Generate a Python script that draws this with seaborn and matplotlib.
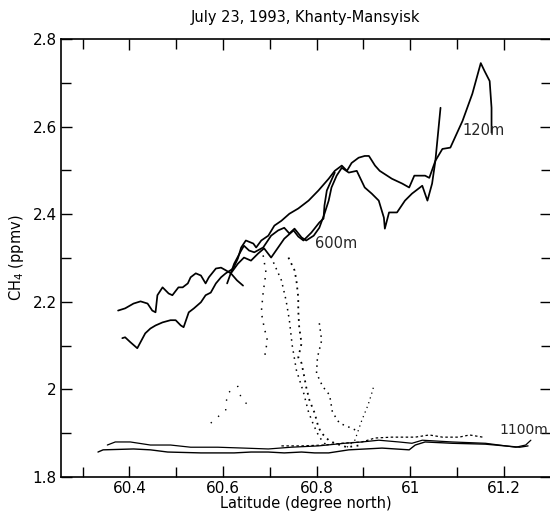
import numpy as np
import pandas as pd
import matplotlib
matplotlib.use("Agg")
import matplotlib.pyplot as plt
from matplotlib.ticker import MultipleLocator, FuncFormatter
import seaborn as sns

# ---------------- data ----------------
# 120 m flight legs
lat_120a = [60.376, 60.391, 60.409, 60.424, 60.439, 60.449, 60.456, 60.460, 60.471, 60.484,
            60.492, 60.505, 60.514, 60.525, 60.531, 60.542, 60.553, 60.563, 60.570, 60.585,
            60.596, 60.606, 60.617, 60.632, 60.645, 60.660, 60.675, 60.688, 60.703, 60.718,
            60.731, 60.751, 60.761, 60.772, 60.789, 60.806, 60.815, 60.817, 60.822, 60.839]
ch4_120a = [2.180, 2.185, 2.196, 2.201, 2.196, 2.180, 2.176, 2.215, 2.233, 2.219,
            2.215, 2.233, 2.233, 2.242, 2.256, 2.265, 2.260, 2.242, 2.256, 2.276,
            2.278, 2.272, 2.265, 2.287, 2.301, 2.294, 2.310, 2.322, 2.301, 2.324,
            2.344, 2.363, 2.349, 2.340, 2.358, 2.381, 2.390, 2.420, 2.454, 2.495]
lat_120d = [60.617, 60.630, 60.643]
ch4_120d = [2.265, 2.249, 2.237]
lat_120b = [60.385, 60.391, 60.402, 60.417, 60.424, 60.434, 60.445, 60.456, 60.471, 60.488,
            60.499, 60.510, 60.516, 60.527, 60.538, 60.553, 60.563, 60.574, 60.585, 60.596,
            60.606, 60.622, 60.632, 60.639, 60.649, 60.665, 60.671, 60.682, 60.697, 60.710,
            60.725, 60.742, 60.761, 60.783, 60.804, 60.826, 60.839, 60.854, 60.865, 60.875,
            60.890, 60.903, 60.912, 60.925, 60.935, 60.961, 60.983, 60.998, 61.009, 61.032,
            61.041, 61.054, 61.069, 61.086, 61.112, 61.133, 61.151, 61.159, 61.170, 61.174,
            61.174]
ch4_120b = [2.117, 2.119, 2.108, 2.094, 2.108, 2.128, 2.139, 2.146, 2.153, 2.158,
            2.158, 2.146, 2.142, 2.176, 2.185, 2.199, 2.215, 2.221, 2.242, 2.256,
            2.265, 2.276, 2.299, 2.324, 2.340, 2.333, 2.324, 2.340, 2.351, 2.374,
            2.385, 2.401, 2.413, 2.431, 2.454, 2.481, 2.499, 2.511, 2.499, 2.517,
            2.529, 2.533, 2.533, 2.511, 2.499, 2.481, 2.470, 2.461, 2.488, 2.488,
            2.483, 2.522, 2.549, 2.552, 2.613, 2.675, 2.745, 2.727, 2.704, 2.643,
            2.586]
lat_120c = [60.609, 60.624, 60.639, 60.645, 60.656, 60.667, 60.686, 60.703, 60.718, 60.731,
            60.742, 60.753, 60.768, 60.778, 60.794, 60.806, 60.817, 60.826, 60.832, 60.843,
            60.854, 60.869, 60.886, 60.903, 60.918, 60.933, 60.944, 60.946, 60.955, 60.972,
            60.989, 61.004, 61.026, 61.037, 61.047, 61.054, 61.065]
ch4_120c = [2.242, 2.287, 2.317, 2.328, 2.317, 2.313, 2.324, 2.351, 2.363, 2.369,
            2.356, 2.367, 2.347, 2.340, 2.351, 2.369, 2.401, 2.431, 2.461, 2.488,
            2.506, 2.495, 2.499, 2.461, 2.447, 2.431, 2.392, 2.367, 2.404, 2.404,
            2.431, 2.447, 2.465, 2.431, 2.470, 2.522, 2.643]

# 600 m legs (dotted)
lat_600a = [60.740, 60.753, 60.757, 60.761, 60.761, 60.763, 60.768, 60.761, 60.768, 60.774,
            60.778, 60.785, 60.796, 60.804, 60.811, 60.826, 60.839, 60.865, 60.897]
ch4_600a = [2.301, 2.272, 2.249, 2.210, 2.180, 2.142, 2.105, 2.073, 2.060, 2.028,
            2.005, 1.975, 1.946, 1.914, 1.900, 1.884, 1.877, 1.868, 1.873]
lat_600b = [60.708, 60.725, 60.735, 60.742, 60.748, 60.757, 60.772, 60.783, 60.794, 60.806, 60.822]
ch4_600b = [2.290, 2.249, 2.203, 2.158, 2.101, 2.044, 1.994, 1.948, 1.918, 1.891, 1.871]
lat_600c = [60.686, 60.692, 60.686, 60.682, 60.688, 60.695, 60.688]
ch4_600c = [2.306, 2.267, 2.221, 2.176, 2.142, 2.112, 2.067]
lat_600d = [60.806, 60.811, 60.802, 60.800, 60.813, 60.828, 60.834, 60.849, 60.869, 60.888]
ch4_600d = [2.151, 2.112, 2.073, 2.037, 2.007, 1.987, 1.948, 1.923, 1.914, 1.905]
lat_600e = [60.865, 60.882, 60.897, 60.910, 60.918, 60.923]
ch4_600e = [1.868, 1.884, 1.930, 1.964, 1.991, 2.010]
lat_600f = [60.574, 60.606, 60.609, 60.632, 60.639, 60.660]
ch4_600f = [1.923, 1.953, 1.991, 2.007, 1.980, 1.957]

# 1100 m legs
lat_1100a = [60.353, 60.370, 60.402, 60.445, 60.488, 60.531, 60.589, 60.645, 60.697, 60.746,
             60.804, 60.860, 60.897, 60.933, 60.976, 61.004, 61.026, 61.090, 61.161, 61.226,
             61.247, 61.258]
ch4_1100a = [1.873, 1.880, 1.880, 1.873, 1.873, 1.868, 1.868, 1.866, 1.864, 1.868,
             1.871, 1.877, 1.880, 1.884, 1.880, 1.877, 1.884, 1.880, 1.877, 1.868,
             1.873, 1.884]
lat_1100b = [60.333, 60.344, 60.409, 60.445, 60.482, 60.553, 60.624, 60.660, 60.697, 60.731,
             60.768, 60.796, 60.826, 60.869, 60.940, 60.998, 61.011, 61.032, 61.090, 61.161,
             61.234, 61.252]
ch4_1100b = [1.857, 1.862, 1.864, 1.862, 1.857, 1.855, 1.855, 1.857, 1.857, 1.855,
             1.857, 1.855, 1.855, 1.862, 1.866, 1.862, 1.873, 1.880, 1.877, 1.875,
             1.868, 1.871]
lat_1100c = [60.725, 60.768, 60.817, 60.854, 60.897, 60.925, 60.961, 61.011, 61.041, 61.069,
             61.105, 61.127, 61.155]
ch4_1100c = [1.871, 1.871, 1.873, 1.877, 1.880, 1.889, 1.891, 1.891, 1.896, 1.891,
             1.891, 1.896, 1.891]

legs = {
    "120a": (lat_120a, ch4_120a), "120d": (lat_120d, ch4_120d),
    "120b": (lat_120b, ch4_120b), "120c": (lat_120c, ch4_120c),
    "600a": (lat_600a, ch4_600a), "600b": (lat_600b, ch4_600b),
    "600c": (lat_600c, ch4_600c), "600d": (lat_600d, ch4_600d),
    "600e": (lat_600e, ch4_600e), "600f": (lat_600f, ch4_600f),
    "1100a": (lat_1100a, ch4_1100a), "1100b": (lat_1100b, ch4_1100b),
    "1100c": (lat_1100c, ch4_1100c),
}
frames = [pd.DataFrame({"lat": v[0], "ch4": v[1], "leg": k}) for k, v in legs.items()]
df = pd.concat(frames, ignore_index=True)

styles = {
    "120a": dict(lw=1.25, ls="-"), "120d": dict(lw=1.25, ls="-"),
    "120b": dict(lw=1.25, ls="-"), "120c": dict(lw=1.25, ls="-"),
    "600a": dict(lw=1.3, ls=(0, (1, 2.5))), "600b": dict(lw=1.1, ls=(0, (1, 3))),
    "600c": dict(lw=1.1, ls=(0, (1, 4))), "600d": dict(lw=1.1, ls=(0, (1, 3))),
    "600e": dict(lw=0.9, ls=(0, (1, 3))), "600f": dict(lw=1.0, ls=(0, (1, 6))),
    "1100a": dict(lw=0.9, ls="-"), "1100b": dict(lw=1.0, ls="-"),
    "1100c": dict(lw=0.9, ls=(0, (2, 2))),
}

# ---------------- figure ----------------
sns.set_theme(style="ticks")
plt.rcParams["font.family"] = ["DejaVu Sans"]
fig = plt.figure(figsize=(5.5, 5.16), dpi=100)
ax = fig.add_axes([61 / 550, 39 / 516, 489.5 / 550, 438 / 516])

for leg, st in styles.items():
    sub = df[df["leg"] == leg]
    sns.lineplot(data=sub, x="lat", y="ch4", ax=ax, sort=False, estimator=None,
                 color="black", linewidth=st["lw"], linestyle=st["ls"], legend=False)

ax.set_xlim(60.254, 61.3)
ax.set_ylim(1.8, 2.8)
ax.xaxis.set_major_locator(MultipleLocator(0.2))
ax.xaxis.set_minor_locator(MultipleLocator(0.1))
ax.yaxis.set_major_locator(MultipleLocator(0.2))
ax.yaxis.set_minor_locator(MultipleLocator(0.1))
fmt = FuncFormatter(lambda v, p: f"{v:g}")
ax.xaxis.set_major_formatter(fmt)
ax.yaxis.set_major_formatter(fmt)
ax.tick_params(which="both", direction="in", top=True, right=True, colors="black",
               width=1.0, labelsize=11)
ax.tick_params(which="major", length=8)
ax.tick_params(which="minor", length=7)
ax.tick_params(axis="x", pad=3)
ax.tick_params(axis="y", pad=3)
for s in ax.spines.values():
    s.set_linewidth(1.2)
    s.set_color("black")

ax.set_xlabel("Latitude (degree north)", fontsize=10.5, labelpad=0, color="black")
ax.set_ylabel("CH$_4$ (ppmv)", fontsize=10.5, labelpad=5, color="black")
ax.set_title("July 23, 1993, Khanty-Mansyisk", fontsize=10.5, pad=12, color="black")

ax.text(61.112, 2.59, "120m", fontsize=10.5, va="center", ha="left")
ax.text(60.796, 2.333, "600m", fontsize=10.5, va="center", ha="left")
ax.text(61.296, 1.907, "1100m", fontsize=10, va="center", ha="right")

fig.savefig("out.png", dpi=100, facecolor="white")
